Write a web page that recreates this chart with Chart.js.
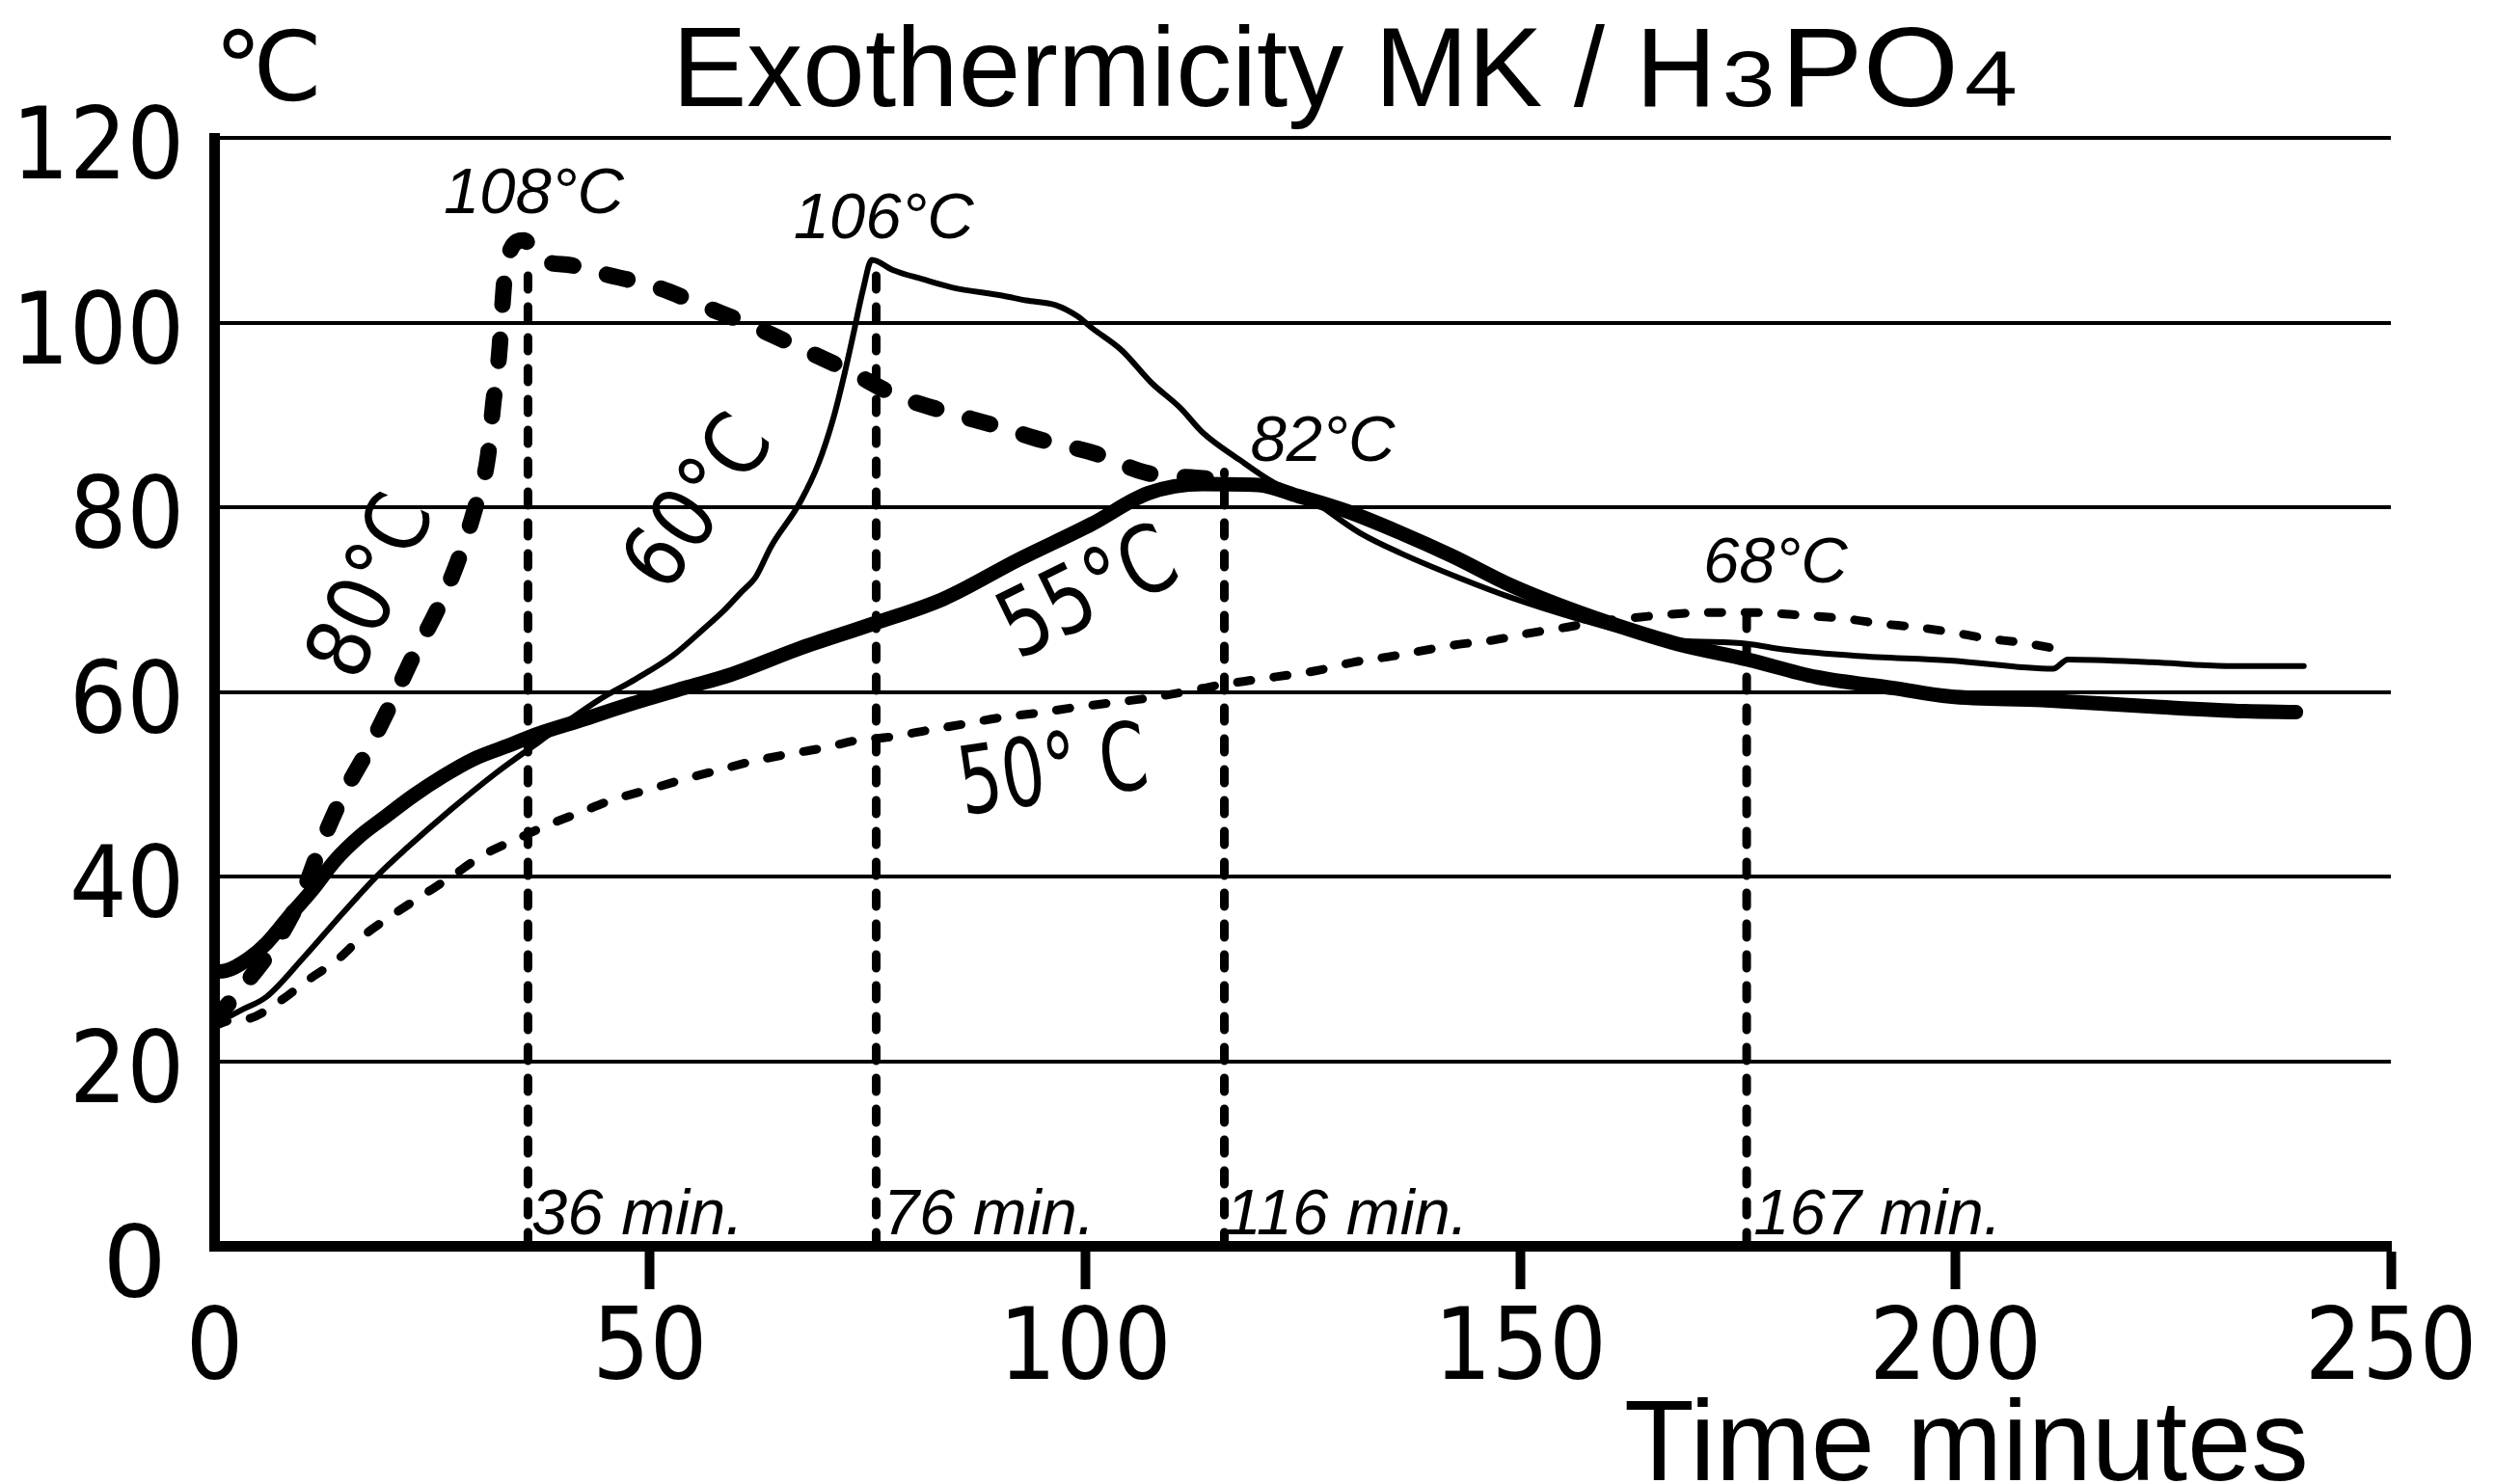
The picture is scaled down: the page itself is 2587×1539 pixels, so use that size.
<!DOCTYPE html>
<html>
<head>
<meta charset="utf-8">
<title>Exothermicity MK / H3PO4</title>
<script src="https://cdn.jsdelivr.net/npm/chart.js@4.4.1/dist/chart.umd.min.js"></script>
<style>
  html, body { margin: 0; padding: 0; background: #fff; }
  #chart { display: block; }
</style>
</head>
<body>
<canvas id="chart" width="2587" height="1539"></canvas>
<script>
// readings: time in minutes, temperature in °C
const time80 = [0, 3.8, 7.3, 10.2, 12.3, 14.8, 17.6, 20.4, 22.9, 25.7, 28, 29.9, 31.4, 32, 32.7, 33.1, 33.5, 35.5, 37.5, 41, 45, 50.9, 56.4, 61.9, 66.9, 72.8, 78.3, 83.8, 89.8, 95.3, 101.2, 107.1, 112.7, 115.5];
const temp80 = [24.5, 28.7, 33.2, 38.4, 43.6, 48.9, 53.7, 59, 64, 69.1, 74.3, 79.8, 85.5, 91.1, 96.7, 102.3, 106.5, 108.9, 106.8, 106.2, 105.2, 103.8, 101.7, 99.6, 97.4, 94.8, 92.1, 90.4, 88.8, 87.2, 85.8, 83.7, 83.2, 83];

const time60 = [0, 3, 6, 10.2, 14.5, 18.7, 22.1, 27.2, 32.3, 37.3, 44.1, 48.4, 52.6, 56.4, 58.4, 60.5, 62.2, 63.9, 67.3, 69.4, 71.1, 72.4, 73.3, 74.5, 75.5, 77.9, 81.3, 84.7, 90.6, 93.2, 96.6, 99.1, 100.8, 104.2, 107.6, 111, 113.5, 117.8, 121.6, 125.6, 131.6, 136.3, 143.1, 149, 157.4, 161.7, 168, 176.1, 180.2, 188.7, 199.3, 211.2, 212.9, 222.6, 231.1, 240];
const temp60 = [24, 25.5, 27, 31.2, 35.8, 40.1, 43.1, 47.3, 51.2, 54.6, 59.1, 61.4, 63.9, 67, 68.7, 70.8, 72.5, 75.7, 80.6, 84.8, 89.7, 94.6, 98.4, 103.6, 106.8, 105.7, 104.7, 103.8, 102.9, 102.4, 101.9, 100.7, 99.4, 97, 93.5, 90.7, 88.1, 85.1, 82.7, 81, 77.2, 75, 72.3, 70.2, 67.7, 66.6, 65.6, 65.2, 64.6, 63.9, 63.4, 62.5, 63.5, 63.2, 62.8, 62.8];

const time55 = [0, 1.3, 3.9, 6, 8.5, 11.1, 14, 16.6, 19.5, 22.9, 26.3, 29.7, 33.5, 37.3, 42, 47.5, 53.9, 59.4, 66.9, 75.4, 83.8, 92.3, 100.8, 107.2, 113.5, 119.9, 124.5, 130, 136.3, 142.2, 149, 155.3, 161.7, 168, 176.1, 184, 192.9, 199.3, 209.9, 222.6, 233.2, 239.1];
const temp55 = [29.7, 29.8, 31.1, 32.8, 35.6, 38.4, 41.9, 44.3, 46.4, 48.8, 50.9, 52.7, 54.1, 55.5, 56.9, 58.6, 60.4, 61.9, 64.6, 67.3, 70.1, 74.3, 78.2, 81.5, 82.5, 82.4, 81.2, 79.6, 77.2, 74.7, 71.5, 69.1, 67, 65.2, 63.5, 61.6, 60.4, 59.5, 59.1, 58.4, 57.9, 57.8];

const time50 = [0, 1.7, 3.9, 7.5, 10.6, 14, 17, 20.4, 23.8, 27.2, 31, 34.6, 38.1, 41.9, 45.7, 49.8, 53.8, 57.8, 61.9, 65.6, 69.8, 74.1, 77.5, 81.7, 86, 90.2, 94.4, 98.7, 102.9, 107.1, 111.4, 115.2, 119.4, 126.6, 130.8, 135.5, 142.6, 146.9, 150.7, 155.3, 159.6, 163.8, 167.2, 172.3, 176.5, 180.8, 187.5, 191.3, 195.5, 199.3, 203.5, 207.8, 212];
const temp50 = [23.8, 24.4, 24.6, 26.5, 28.7, 30.9, 33.5, 35.8, 37.9, 40, 42.4, 44, 45.5, 46.9, 48.3, 49.4, 50.5, 51.5, 52.5, 53.2, 53.9, 54.8, 55.1, 55.8, 56.5, 57.2, 57.7, 58.3, 58.8, 59.3, 60, 60.7, 61.3, 62.3, 63.2, 63.9, 65.1, 65.6, 66.3, 67, 67.7, 68.1, 68.4, 68.6, 68.6, 68.4, 67.9, 67.4, 67, 66.5, 65.8, 65.3, 64.6];

// peak markers: drop lines from each peak down to the time axis
const peakTimes = [36, 76, 116, 176];
const peakTops = [106.3, 106.3, 83.8, 69.3];

const xTicks = [0, 50, 100, 150, 200, 250];
const yTicks = [0, 20, 40, 60, 80, 100, 120];

const toPoints = (xs, ys) => xs.map((v, i) => ({ x: v, y: ys[i] }));

const curve = (data, width, dash) => ({
  data,
  borderColor: '#000',
  borderWidth: width,
  borderDash: dash,
  borderCapStyle: 'round',
  borderJoinStyle: 'round',
  pointRadius: 0,
  cubicInterpolationMode: 'monotone',
  fill: false
});

const dropLines = peakTimes.map((t, i) => ({
  data: [{ x: t, y: 0 }, { x: t, y: peakTops[i] }],
  borderColor: '#000',
  borderWidth: 9,
  borderDash: [14, 18],
  borderCapStyle: 'round',
  pointRadius: 0,
  fill: false
}));

// text placed on the plot, in data units
const peakNotes = [
  { text: '108°C', x: 26.3, y: 111.9 },
  { text: '106°C', x: 66.5, y: 109.1 },
  { text: '82°C', x: 119, y: 85 },
  { text: '68°C', x: 171, y: 71.9 }
];
const timeNotes = [
  { text: '36 min.', x: 36.4 },
  { text: '76 min.', x: 76.8 },
  { text: '116 min.', x: 116.1 },
  { text: '167 min.', x: 176.8 }
];
const curveNotes = [
  { text: '80°C', x: 18.5, y: 71.2, angle: -65.8, size: 90, sx: 0.88 },
  { text: '60°C', x: 56, y: 80.2, angle: -54.6, size: 90, sx: 0.88 },
  { text: '55°C', x: 100.6, y: 70.2, angle: -26.1, size: 97, sx: 0.8 },
  { text: '50° C', x: 96.4, y: 50.8, angle: -8.5, size: 98, sx: 0.72 }
];

// [text, font size, horizontal scale, gap before]
const titleParts = [['Exothermicity MK / H', 116, 1, 0], ['3', 82, 1.2, 6], ['PO', 116, 1.1, 6], ['4', 82, 1.2, 6]];

const SANS = '"Liberation Sans", Arial, sans-serif';
const DEJAVU = '"DejaVu Sans", sans-serif';

function drawText(ctx, text, x, y, sx, align) {
  ctx.save();
  ctx.translate(x, y);
  ctx.scale(sx, 1);
  ctx.textAlign = align;
  ctx.fillText(text, 0, 0);
  ctx.restore();
}

const labelPlugin = {
  id: 'labels',
  afterDraw(chart) {
    const { ctx, scales: { x, y } } = chart;
    ctx.save();
    ctx.fillStyle = '#000';
    ctx.textBaseline = 'alphabetic';

    // title with the small 3 and 4 of H3PO4
    let tx = 697;
    for (const [s, size, sx, gap] of titleParts) {
      tx += gap;
      ctx.font = size + 'px ' + SANS;
      drawText(ctx, s, tx, 110, sx, 'left');
      tx += ctx.measureText(s).width * sx;
    }

    ctx.font = '100px ' + DEJAVU;
    drawText(ctx, '℃', 222, 104, 1, 'left');

    ctx.font = '119px ' + SANS;
    drawText(ctx, 'Time minutes', 1684, 1535, 1, 'left');

    // tick labels, narrow digits
    ctx.font = '104px ' + DEJAVU;
    for (const t of x.ticks) {
      drawText(ctx, String(t.value), x.getPixelForValue(t.value), 1430, 0.9, 'center');
    }
    for (const t of y.ticks) {
      const py = y.getPixelForValue(t.value);
      if (t.value === 0) {
        drawText(ctx, '0', 139.5, 1345, 1, 'center');
      } else {
        drawText(ctx, String(t.value), 191, py + 42, 0.9, 'right');
      }
    }

    ctx.font = 'italic 67px ' + SANS;
    for (const n of peakNotes) {
      drawText(ctx, n.text, x.getPixelForValue(n.x), y.getPixelForValue(n.y), 1, 'left');
    }
    for (const n of timeNotes) {
      drawText(ctx, n.text, x.getPixelForValue(n.x), y.getPixelForValue(1.3), 1, 'left');
    }

    ctx.textAlign = 'center';
    ctx.textBaseline = 'middle';
    for (const n of curveNotes) {
      ctx.save();
      ctx.translate(x.getPixelForValue(n.x), y.getPixelForValue(n.y));
      ctx.rotate(n.angle * Math.PI / 180);
      ctx.scale(n.sx, 1);
      ctx.font = n.size + 'px ' + DEJAVU;
      ctx.fillText(n.text, 0, 0);
      ctx.restore();
    }
    ctx.restore();
  }
};

new Chart(document.getElementById('chart'), {
  type: 'line',
  data: {
    datasets: [
      curve(toPoints(time80, temp80), 17, [22, 36]),
      curve(toPoints(time60, temp60), 6, []),
      curve(toPoints(time55, temp55), 15, []),
      curve(toPoints(time50, temp50), 9, [14, 24]),
      ...dropLines
    ]
  },
  options: {
    responsive: false,
    animation: false,
    layout: { padding: { top: 143, right: 108, left: 0, bottom: 0 } },
    plugins: {
      legend: { display: false },
      tooltip: { enabled: false },
      title: { display: false }
    },
    scales: {
      x: {
        type: 'linear',
        min: 0,
        max: 250,
        afterBuildTicks: s => { s.ticks = xTicks.map(v => ({ value: v })); },
        ticks: { display: false },
        grid: {
          drawOnChartArea: false,
          drawTicks: true,
          tickLength: 45,
          tickWidth: 10,
          tickColor: c => (c.tick && c.tick.value === 0) ? 'rgba(0,0,0,0)' : '#000'
        },
        border: { display: true, width: 11, color: '#000' },
        afterFit: s => { s.height = 247; s.paddingLeft = 0; s.paddingRight = 0; }
      },
      y: {
        min: 0,
        max: 120,
        afterBuildTicks: s => { s.ticks = yTicks.map(v => ({ value: v })); },
        ticks: { display: false },
        grid: { color: '#000', lineWidth: 4, drawTicks: false },
        border: { display: true, width: 11, color: '#000' },
        afterFit: s => { s.width = 222.5; s.paddingTop = 0; s.paddingBottom = 0; }
      }
    }
  },
  plugins: [labelPlugin]
});
</script>
</body>
</html>
